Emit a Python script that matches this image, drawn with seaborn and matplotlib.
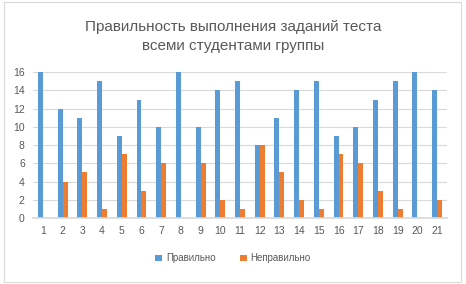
import numpy as np
import pandas as pd
import seaborn as sns
import matplotlib.pyplot as plt
from matplotlib.patches import Rectangle

zadaniya = [str(i) for i in range(1, 22)]
pravilno = [16, 12, 11, 15, 9, 13, 10, 16, 10, 14, 15, 8, 11, 14, 15, 9, 10, 13, 15, 16, 14]
nepravilno = [0, 4, 5, 1, 7, 3, 6, 0, 6, 2, 1, 8, 5, 2, 1, 7, 6, 3, 1, 0, 2]

df = pd.DataFrame({
    "zadanie": zadaniya * 2,
    "znachenie": pravilno + nepravilno,
    "seriya": ["Правильно"] * 21 + ["Неправильно"] * 21,
})

sns.set_theme(style="white")
plt.rcParams['font.family'] = ['Liberation Sans', 'DejaVu Sans']

fig = plt.figure(figsize=(4.66, 2.84), dpi=100)
ax = fig.add_axes([0.071, 0.232, 0.888, 0.514])

sns.barplot(data=df, x="zadanie", y="znachenie", hue="seriya",
            palette=["#5B9BD5", "#ED7D31"], width=0.5, saturation=1,
            linewidth=0, ax=ax, legend=True)

ax.set_ylim(0, 16)
ax.set_xlim(-0.5, 20.5)
ax.set_yticks(range(0, 17, 2))
ax.yaxis.grid(True, color="#D9D9D9", linewidth=0.8)
ax.set_axisbelow(True)
for side in ["top", "right", "left"]:
    ax.spines[side].set_visible(False)
ax.spines["bottom"].set_color("#D9D9D9")
ax.tick_params(axis="both", labelsize=7.5, colors="#595959", length=0, pad=6)
ax.set_xlabel("")
ax.set_ylabel("")

fig.text(0.5, 0.872, "Правильность выполнения заданий теста\nвсеми студентами группы",
         ha="center", va="center", fontsize=11, color="#595959", linespacing=1.5)

ax.legend(loc="center", bbox_to_anchor=(0.5, 0.09), bbox_transform=fig.transFigure,
          ncol=2, frameon=False, fontsize=7, labelcolor="#595959",
          handlelength=0.7, handleheight=0.7, handletextpad=0.4, columnspacing=2.5)

fig.patches.append(Rectangle((0.009, 0.007), 0.98, 0.986, transform=fig.transFigure,
                             fill=False, edgecolor="#D9D9D9", linewidth=0.8))

fig.savefig("out.png", dpi=100, facecolor="white")
